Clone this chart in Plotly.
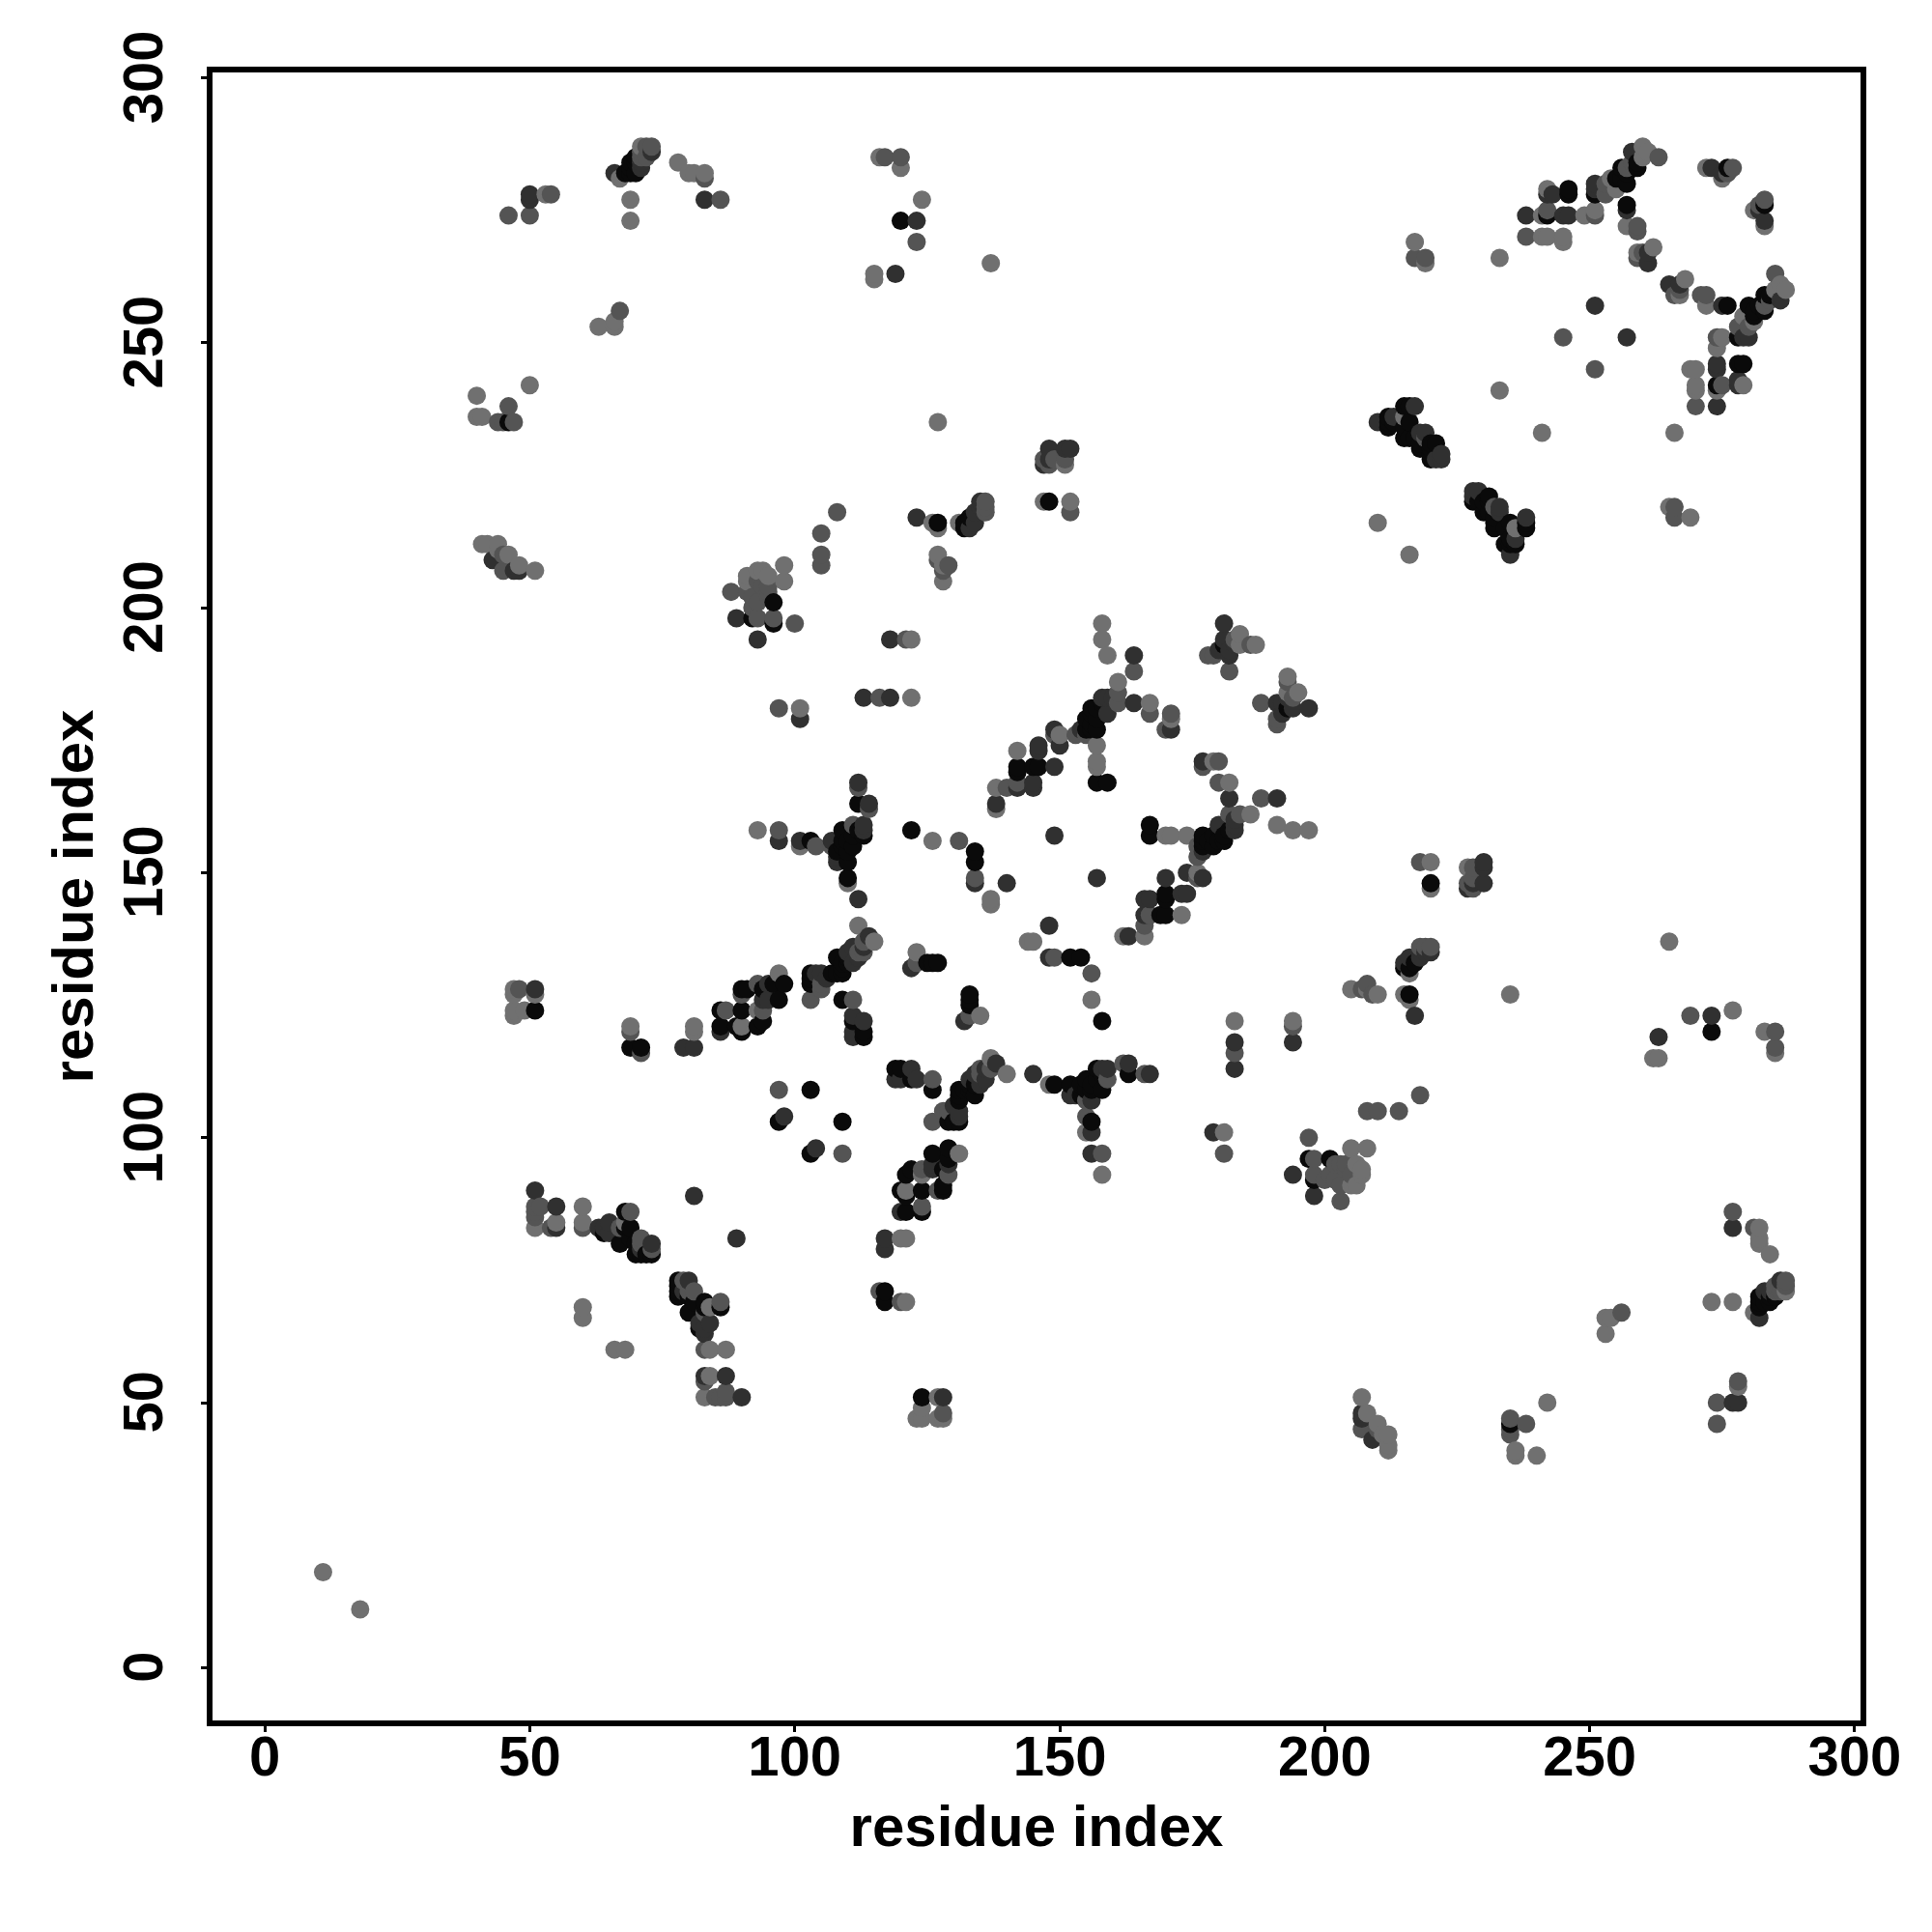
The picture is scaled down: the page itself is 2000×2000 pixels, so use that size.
import plotly.graph_objects as go

# residue contact pairs (i, j), one list per grey shade
black_contacts = [(46,235),(68,282),(69,282),(70,282),(69,283),(69,284),(70,284),(70,285),(120,273),(92,198),(96,201),(96,197),(127,216),(132,216),(133,217),(132,215),(148,220),(142,169),(142,170),(145,170),(146,170),(155,177),(156,177),(157,177),(155,179),(156,180),(157,179),(157,181),(156,178),(156,181),(158,182),(157,167),(159,167),(134,154),(134,152),(112,163),(103,156),(109,158),(112,158),(111,157),(113,157),(109,156),(110,154),(108,154),(110,152),(110,149),(122,158),(109,155),(110,156),(111,155),(108,134),(110,134),(127,133),(125,133),(126,133),(109,133),(108,131),(109,132),(110,133),(103,131),(103,130),(103,129),(107,131),(109,131),(109,126),(113,119),(113,120),(111,122),(103,109),(97,103),(86,124),(86,121),(90,124),(89,121),(90,120),(93,121),(90,128),(91,128),(94,128),(97,126),(98,129),(96,129),(94,122),(69,117),(71,117),(51,124),(68,86),(68,83),(69,83),(67,80),(69,81),(70,78),(73,78),(72,78),(71,78),(70,80),(64,82),(242,274),(246,279),(246,278),(251,278),(255,281),(257,280),(256,283),(259,283),(256,281),(259,284),(257,282),(257,276),(276,283),(212,234),(212,235),(212,236),(213,235),(215,232),(215,234),(215,238),(216,235),(216,238),(217,232),(218,230),(220,231),(220,228),(220,230),(221,231),(220,229),(218,231),(216,232),(181,193)]
dark_contacts = [(50,277),(50,278),(66,282),(71,283),(71,284),(73,286),(83,277),(119,263),(123,273),(43,209),(47,207),(48,207),(89,198),(93,194),(101,179),(113,183),(118,183),(118,194),(123,217),(134,216),(133,215),(134,218),(135,219),(135,220),(147,227),(148,228),(148,230),(152,230),(151,230),(164,191),(138,163),(142,166),(145,166),(145,167),(149,170),(146,174),(146,173),(150,174),(149,177),(154,177),(158,183),(159,180),(159,183),(160,183),(164,182),(171,177),(149,157),(134,148),(140,148),(112,167),(114,163),(97,156),(101,156),(107,156),(113,159),(113,158),(108,153),(108,152),(112,145),(114,138),(110,135),(122,132),(113,136),(111,136),(111,133),(112,134),(106,130),(105,131),(104,131),(111,123),(113,122),(111,119),(111,120),(98,104),(86,120),(94,126),(95,129),(95,126),(79,117),(81,117),(51,128),(81,89),(51,90),(55,87),(55,83),(63,83),(64,83),(65,82),(65,84),(73,80),(71,79),(238,274),(242,278),(243,278),(245,274),(246,274),(251,280),(251,279),(258,286),(257,275),(261,267),(273,283),(275,282),(251,257),(210,235),(213,236),(217,238),(218,233),(219,233),(221,228),(222,228),(222,229),(261,265),(181,197),(180,192),(181,194),(182,191),(182,192),(183,193)]
mid_contacts = [(46,274),(50,274),(54,278),(71,285),(72,285),(71,286),(72,287),(73,287),(83,281),(86,277),(117,285),(120,285),(123,269),(67,256),(44,235),(45,235),(46,238),(47,235),(45,210),(45,207),(88,203),(91,203),(92,202),(93,198),(95,204),(93,201),(96,198),(100,197),(95,202),(94,204),(92,200),(95,203),(93,205),(105,214),(105,210),(105,208),(108,218),(97,181),(116,183),(121,194),(136,218),(136,219),(136,220),(127,209),(129,208),(128,207),(147,228),(148,227),(149,228),(151,228),(152,218),(164,188),(140,166),(142,167),(149,176),(153,176),(155,176),(161,184),(161,182),(167,180),(171,180),(170,177),(134,149),(112,166),(114,162),(97,158),(104,155),(107,155),(111,159),(131,156),(113,137),(112,135),(123,133),(113,135),(105,129),(103,126),(105,128),(111,126),(97,109),(87,124),(90,127),(93,129),(94,124),(69,120),(71,116),(48,128),(51,87),(52,87),(51,86),(51,85),(54,83),(60,83),(69,86),(67,83),(71,81),(73,79),(71,80),(238,270),(242,275),(251,274),(253,280),(253,278),(257,283),(258,284),(263,285),(259,272),(259,271),(260,267),(277,283),(276,282),(245,251),(217,266),(219,266),(219,232),(179,191),(178,191),(182,188),(186,193),(183,194),(259,266)]
light_contacts = [(11,18),(53,278),(69,273),(69,277),(67,281),(71,287),(78,284),(80,282),(81,282),(83,282),(116,285),(120,283),(124,277),(115,263),(115,262),(127,235),(137,265),(63,253),(66,253),(66,254),(40,240),(40,236),(41,236),(50,242),(41,212),(42,212),(44,212),(44,211),(46,210),(48,208),(51,207),(91,206),(91,205),(94,207),(95,206),(98,208),(98,205),(93,207),(101,181),(122,183),(122,194),(126,216),(127,215),(131,216),(127,210),(128,208),(128,205),(151,227),(147,220),(152,220),(158,197),(158,194),(159,191),(138,166),(138,162),(142,173),(150,176),(161,186),(167,182),(171,179),(157,174),(157,171),(157,170),(137,145),(137,144),(93,158),(101,155),(110,148),(126,156),(112,140),(115,137),(123,135),(90,121),(93,124),(97,131),(69,121),(81,121),(81,120),(47,128),(47,127),(51,127),(47,124),(47,123),(49,124),(60,66),(60,68),(51,83),(55,84),(60,87),(60,84),(68,84),(241,274),(242,279),(241,270),(242,270),(245,270),(245,269),(249,274),(251,275),(254,281),(255,279),(260,287),(261,286),(260,285),(257,272),(259,267),(262,268),(272,283),(275,281),(233,266),(233,241),(217,269),(219,265),(215,236),(210,216),(184,195),(184,193),(187,193)]

shades = {"#0a0a0a": black_contacts, "#303030": dark_contacts,
          "#545454": mid_contacts, "#707070": light_contacts}

tick_values = [0, 50, 100, 150, 200, 250, 300]
axis_label = "residue index"

# the map is symmetric: every contact appears on both sides of the diagonal;
# points are painted in ascending x, then y
points = []
for colour, pairs in shades.items():
    for i, j in pairs:
        points.append((i, j, colour))
        points.append((j, i, colour))
points.sort(key=lambda p: (p[0], p[1]))

FONT = dict(family="Liberation Sans", size=58, color="black", weight="bold")
TITLE = dict(family="Liberation Sans", size=60, color="black", weight="bold")

fig = go.Figure(go.Scatter(
    x=[p[0] for p in points], y=[p[1] for p in points], mode="markers",
    marker=dict(size=19, color=[p[2] for p in points], line=dict(width=0)),
    hoverinfo="skip", cliponaxis=False))

axis = dict(tickvals=tick_values, ticks="outside", ticklen=6, tickwidth=3, tickcolor="black",
            showline=True, linewidth=6, linecolor="black", mirror=True,
            showgrid=False, zeroline=False, tickfont=FONT, automargin=False)
fig.update_xaxes(range=[-9.86, 301.1], title=dict(text=axis_label, font=TITLE, standoff=22),
                 ticklabelstandoff=-25, **axis)
fig.update_yaxes(range=[-9.97, 301.0], title=dict(text=axis_label, font=TITLE, standoff=1),
                 tickangle=-90, ticklabelstandoff=17, ticklabelshift=8, **axis)
fig.update_layout(width=2000, height=2000, paper_bgcolor="white", plot_bgcolor="white",
                  showlegend=False,
                  margin=dict(l=212, r=82, t=67, b=227, autoexpand=False))
fig.write_html("out.html")
